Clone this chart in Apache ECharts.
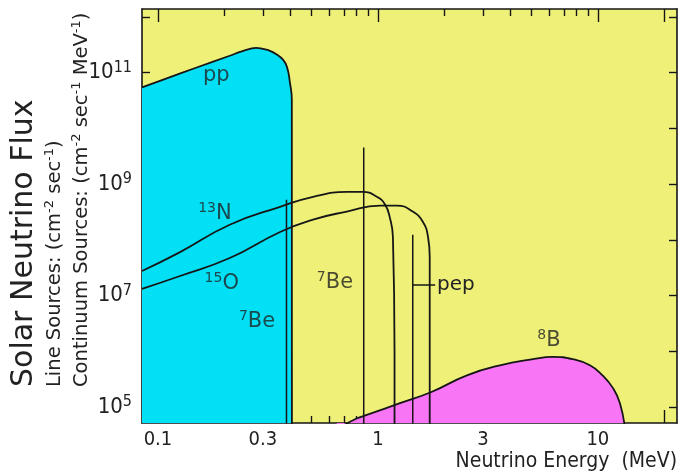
<!DOCTYPE html>
<html><head><meta charset="utf-8">
<script src="https://cdn.jsdelivr.net/npm/echarts@6/dist/echarts.min.js"></script>
<style>html,body{margin:0;padding:0;background:#fff}#c{width:680px;height:475px}</style>
</head><body><div id="c"></div>
<script>
// ---- data (energy in MeV, flux) ----
const ppEnergy = [0.0846, 0.105, 0.15, 0.212, 0.236, 0.262, 0.279, 0.30, 0.323, 0.347, 0.370, 0.386, 0.398, 0.406, 0.4065];
const ppFlux   = [5.4e10, 7.4e10, 1.23e11, 2.0e11, 2.34e11, 2.65e11, 2.78e11, 2.65e11, 2.45e11, 2.1e11, 1.7e11, 1.26e11, 6.6e10, 3.2e10, 1e4];

const n13Energy = [0.0846, 0.126, 0.212, 0.359, 0.507, 0.722, 0.855, 0.989, 1.077, 1.13, 1.17, 1.19, 1.19];
const n13Flux   = [2.75e7, 6.0e7, 1.86e8, 3.9e8, 5.9e8, 7.2e8, 7.2e8, 5.9e8, 4.3e8, 2.6e8, 1.12e8, 1e6, 1e4];

const o15Energy = [0.0846, 0.126, 0.212, 0.359, 0.507, 0.722, 1.02, 1.22, 1.44, 1.60, 1.69, 1.72, 1.72];
const o15Flux   = [1.32e7, 2.24e7, 4.7e7, 1.38e8, 2.3e8, 3.2e8, 4.1e8, 4.1e8, 3.2e8, 2.1e8, 1.12e8, 4.9e7, 1e4];

const b8Energy = [0.65, 0.80, 0.89, 1.26, 1.75, 2.54, 3.59, 5.07, 6.24, 7.69, 9.2, 10.5, 11.7, 12.6, 13.3];
const b8Flux   = [4.0e4, 6.2e4, 7.2e4, 1.17e5, 1.86e5, 3.7e5, 5.6e5, 7.2e5, 7.9e5, 7.2e5, 5.6e5, 3.7e5, 2.2e5, 1.17e5, 4.0e4];

// line sources (7Be 0.384, 7Be 0.862, pep 1.44)
const lineEnergy = [0.384, 0.862, 1.44];
const lineFlux   = [5.2e8, 4.5e9, 1.23e8];
const lineBase   = 1e4;

// pep connector
const pepTickEnergy = [1.44, 1.82];
const pepTickFlux   = [1.55e7, 1.55e7];

// in-plot labels
const labelSup    = ['', '13', '15', '7', '7', '8'];
const labelBase   = ['pp', 'N', 'O', 'Be', 'Be', 'B'];
const labelEnergy = [0.184, 0.1815, 0.195, 0.282, 0.638, 5.99];
const labelFlux   = [8.7e10, 3.0e8, 1.62e7, 3.4e6, 1.7e7, 1.58e6];

// axes
const X_MIN = 0.0846, X_MAX = 22.9;
const Y_MIN = 5.16e4, Y_MAX = 1.38e12;
const xMajorTicks = [0.1, 1, 10, 20];
const xMinorTicks = [0.2, 0.3, 0.4, 0.5, 0.6, 0.7, 0.8, 0.9, 2, 3, 4, 5, 6, 7, 8, 9];
const xTickLabels = [0.1, 0.3, 1, 3, 10];
const yTicks      = [1e5, 1e6, 1e7, 1e8, 1e9, 1e10, 1e11, 1e12];
const yTickLabels = [1e5, 1e7, 1e9, 1e11];

const zip = (a, b) => a.map((v, i) => [v, b[i]]);
const INK = '#161616';
const NARROW = "'Liberation Sans Narrow','DejaVu Sans Condensed','Liberation Sans',sans-serif";
const SANS = "'DejaVu Sans','Noto Sans',sans-serif";

const chart = echarts.init(document.getElementById('c'), null, {renderer: 'canvas'});

function xAxisDef(pos, ticks, len, showLine, labels) {
  return {
    type: 'log', logBase: 10, min: X_MIN, max: X_MAX, position: pos, gridIndex: 0,
    axisLine: {show: showLine, onZero: false, lineStyle: {color: INK, width: 1.6}},
    axisTick: {show: true, inside: true, length: len, customValues: ticks, lineStyle: {color: INK, width: 1.4}},
    axisLabel: labels ? {
      show: true, customValues: labels, margin: 7, color: '#222', fontSize: 20, fontFamily: NARROW,
      formatter: v => String(+(+v).toPrecision(3))
    } : {show: false},
    splitLine: {show: false}, minorTick: {show: false}, minorSplitLine: {show: false}
  };
}
function yAxisDef(pos, labels) {
  return {
    type: 'log', logBase: 10, min: Y_MIN, max: Y_MAX, position: pos, gridIndex: 0,
    axisLine: {show: true, onZero: false, lineStyle: {color: INK, width: 1.6}},
    axisTick: {show: true, inside: true, length: 8, customValues: yTicks, lineStyle: {color: INK, width: 1.4}},
    axisLabel: labels ? {
      show: true, customValues: labels, margin: 10, color: '#222', fontFamily: NARROW,
      formatter: v => '{b|10}{s|' + Math.round(Math.log10(v)) + '}',
      rich: {
        b: {fontSize: 22, lineHeight: 26, fontFamily: NARROW, color: '#222'},
        s: {fontSize: 16, lineHeight: 10, verticalAlign: 'top', fontFamily: NARROW, color: '#222'}
      }
    } : {show: false},
    splitLine: {show: false}, minorTick: {show: false}
  };
}

const curve = (name, data, extra) => Object.assign({
  name, type: 'line', data, xAxisIndex: 0, yAxisIndex: 0, symbol: 'none', smooth: 0.5,
  lineStyle: {color: INK, width: 1.8}, silent: true, z: 3
}, extra || {});

const series = [
  curve('pp', zip(ppEnergy, ppFlux), {areaStyle: {color: '#02e0f6', opacity: 1, origin: 'start'}, z: 2}),
  curve('8B', zip(b8Energy, b8Flux), {areaStyle: {color: '#f875f6', opacity: 1, origin: 'start'}, z: 2}),
  curve('13N', zip(n13Energy, n13Flux)),
  curve('15O', zip(o15Energy, o15Flux))
];
lineEnergy.forEach((e, i) => {
  series.push(curve('line' + i, [[e, lineBase], [e, lineFlux[i]]], {smooth: false, lineStyle: {color: INK, width: 1.5}}));
});
series.push(curve('pepTick', zip(pepTickEnergy, pepTickFlux), {smooth: false, lineStyle: {color: INK, width: 1.5},
  endLabel: {show: true, formatter: 'pep', distance: 2, color: '#222', fontSize: 20, fontFamily: SANS}}));

series.push({
  name: 'labels', type: 'scatter', xAxisIndex: 0, yAxisIndex: 0, symbolSize: 1, silent: true, z: 5,
  itemStyle: {color: 'rgba(0,0,0,0)'},
  data: labelEnergy.map((e, i) => [e, labelFlux[i]]),
  label: {
    show: true, position: 'inside',
    formatter: p => (labelSup[p.dataIndex] ? '{s|' + labelSup[p.dataIndex] + '}' : '') + '{n|' + labelBase[p.dataIndex] + '}',
    rich: {
      n: {fontSize: 21, lineHeight: 24, fontFamily: SANS, color: '#222'},
      s: {fontSize: 14, lineHeight: 12, verticalAlign: 'top', fontFamily: SANS, color: '#222'}
    }
  }
});

const title2 = '{n|Line Sources: (cm}{s|-2}{n| sec}{s|-1}{n|)}';
const title3 = '{n|Continuum Sources: (cm}{s|-2}{n| sec}{s|-1}{n| MeV}{s|-1}{n|)}';
const titleRich = {
  n: {fontSize: 19.5, lineHeight: 23, fontFamily: SANS, fill: '#222', color: '#222'},
  s: {fontSize: 13, lineHeight: 12, verticalAlign: 'top', fontFamily: SANS, fill: '#222', color: '#222'}
};

chart.setOption({
  animation: false,
  backgroundColor: '#ffffff',
  grid: {left: 142, top: 9, right: 3, bottom: 52, show: true, backgroundColor: '#eff078',
         borderColor: INK, borderWidth: 0, containLabel: false, outerBoundsMode: 'none'},
  xAxis: [
    xAxisDef('bottom', xMinorTicks, 7, true, xTickLabels),
    xAxisDef('bottom', xMajorTicks, 13, false, null),
    xAxisDef('top', xMinorTicks, 7, true, null),
    xAxisDef('top', xMajorTicks, 13, false, null)
  ],
  yAxis: [yAxisDef('left', yTickLabels), yAxisDef('right', null)],
  series,
  graphic: [
    {type: 'text', x: 24, y: 387, rotation: Math.PI / 2, silent: true,
     style: {text: 'Solar Neutrino Flux', fontSize: 30, fontFamily: SANS, fill: '#222', align: 'left', verticalAlign: 'middle'}},
    {type: 'text', x: 55, y: 387, rotation: Math.PI / 2, silent: true,
     style: {text: title2, rich: titleRich, fill: '#222', align: 'left', verticalAlign: 'middle'}},
    {type: 'text', x: 82, y: 387, rotation: Math.PI / 2, silent: true,
     style: {text: title3, rich: titleRich, fill: '#222', align: 'left', verticalAlign: 'middle'}},
    {type: 'text', x: 677, y: 462, silent: true,
     style: {text: 'Neutrino Energy  (MeV)', fontSize: 21, fontFamily: NARROW, fill: '#222', align: 'right', verticalAlign: 'middle'}}
  ]
});
</script></body></html>
